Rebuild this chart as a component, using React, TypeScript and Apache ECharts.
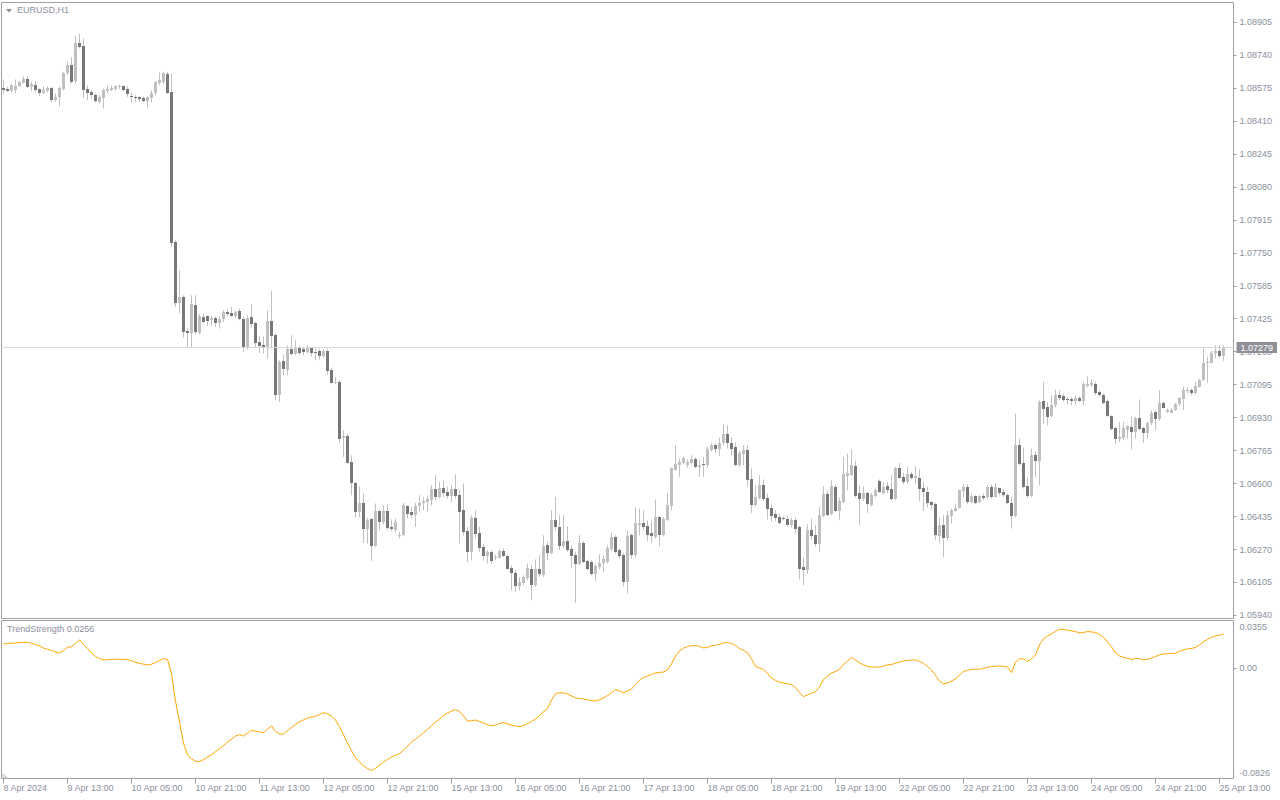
import React, { useEffect, useRef } from "react";
import * as echarts from "echarts";

const symbolTitle = "EURUSD,H1";
const indicatorTitle = "TrendStrength 0.0256";
const lastPrice = 1.07279;

const opens = [
1.08574,1.08570,1.08562,1.08565,1.08585,1.08602,1.08619,1.08582,1.08594,1.08570,
1.08552,1.08562,1.08575,1.08515,1.08532,1.08572,1.08649,1.08690,1.08610,1.08804,
1.08785,1.08570,1.08557,1.08540,1.08507,1.08527,1.08559,1.08565,1.08572,1.08582,
1.08585,1.08570,1.08535,1.08532,1.08529,1.08525,1.08510,1.08525,1.08549,1.08599,
1.08607,1.08647,1.08554,1.07807,1.07502,1.07529,1.07362,1.07352,1.07490,1.07352,
1.07432,1.07435,1.07415,1.07427,1.07402,1.07419,1.07457,1.07452,1.07435,1.07462,
1.07422,1.07274,1.07432,1.07399,1.07305,1.07290,1.07279,1.07412,1.07339,1.07040,
1.07210,1.07165,1.07270,1.07245,1.07282,1.07270,1.07257,1.07274,1.07255,1.07260,
1.07235,1.07260,1.07165,1.07102,1.07104,1.06827,1.06835,1.06705,1.06599,1.06457,
1.06502,1.06372,1.06419,1.06285,1.06460,1.06407,1.06460,1.06382,1.06365,1.06335,
1.06342,1.06485,1.06457,1.06440,1.06485,1.06499,1.06507,1.06515,1.06572,1.06532,
1.06577,1.06555,1.06537,1.06572,1.06540,1.06465,1.06360,1.06257,1.06427,1.06352,
1.06282,1.06235,1.06257,1.06225,1.06227,1.06262,1.06237,1.06177,1.06152,1.06085,
1.06102,1.06127,1.06172,1.06090,1.06172,1.06140,1.06290,1.06252,1.06415,1.06382,
1.06285,1.06312,1.06272,1.06242,1.06195,1.06302,1.06212,1.06204,1.06145,1.06179,
1.06199,1.06207,1.06270,1.06332,1.06265,1.06240,1.06107,1.06340,1.06240,1.06390,
1.06399,1.06385,1.06349,1.06332,1.06429,1.06340,1.06415,1.06485,1.06669,1.06690,
1.06702,1.06690,1.06702,1.06719,1.06682,1.06695,1.06690,1.06765,1.06790,1.06774,
1.06799,1.06845,1.06802,1.06779,1.06690,1.06745,1.06765,1.06619,1.06490,1.06524,
1.06590,1.06524,1.06474,1.06445,1.06429,1.06425,1.06420,1.06390,1.06415,1.06382,
1.06182,1.06165,1.06365,1.06340,1.06295,1.06435,1.06545,1.06445,1.06582,1.06462,
1.06507,1.06637,1.06640,1.06685,1.06549,1.06519,1.06549,1.06490,1.06535,1.06612,
1.06552,1.06585,1.06570,1.06520,1.06674,1.06632,1.06604,1.06645,1.06624,1.06624,
1.06577,1.06557,1.06507,1.06495,1.06335,1.06390,1.06324,1.06439,1.06462,1.06479,
1.06562,1.06582,1.06507,1.06535,1.06507,1.06537,1.06529,1.06582,1.06532,1.06575,
1.06555,1.06540,1.06499,1.06437,1.06790,1.06699,1.06585,1.06537,1.06740,1.06712,
1.07010,1.06979,1.06935,1.06990,1.07040,1.07035,1.07022,1.07019,1.07012,1.07027,
1.07012,1.07089,1.07090,1.07095,1.07057,1.07040,1.07010,1.06935,1.06874,1.06822,
1.06824,1.06869,1.06882,1.06857,1.06924,1.06874,1.06852,1.06899,1.06957,1.06919,
1.07002,1.06957,1.06952,1.06965,1.06995,1.07020,1.07062,1.07065,1.07049,1.07082,
1.07115,1.07199,1.07202,1.07249,1.07262,1.07235
];

const closes = [
1.08565,1.08562,1.08589,1.08585,1.08605,1.08619,1.08582,1.08595,1.08565,1.08549,
1.08565,1.08575,1.08515,1.08530,1.08574,1.08652,1.08690,1.08607,1.08804,1.08782,
1.08565,1.08552,1.08540,1.08512,1.08529,1.08565,1.08569,1.08575,1.08585,1.08584,
1.08565,1.08544,1.08532,1.08527,1.08522,1.08510,1.08529,1.08550,1.08605,1.08615,
1.08649,1.08552,1.07802,1.07502,1.07529,1.07357,1.07352,1.07495,1.07357,1.07435,
1.07407,1.07412,1.07427,1.07402,1.07422,1.07457,1.07445,1.07435,1.07457,1.07422,
1.07279,1.07424,1.07395,1.07302,1.07287,1.07279,1.07412,1.07335,1.07040,1.07207,
1.07169,1.07270,1.07245,1.07277,1.07252,1.07257,1.07277,1.07252,1.07252,1.07235,
1.07260,1.07162,1.07102,1.07107,1.06819,1.06835,1.06702,1.06599,1.06457,1.06502,
1.06372,1.06415,1.06287,1.06460,1.06407,1.06460,1.06377,1.06370,1.06405,1.06344,
1.06492,1.06449,1.06440,1.06485,1.06502,1.06512,1.06519,1.06572,1.06532,1.06577,
1.06552,1.06537,1.06569,1.06535,1.06457,1.06357,1.06257,1.06427,1.06345,1.06279,
1.06235,1.06257,1.06212,1.06232,1.06262,1.06237,1.06174,1.06149,1.06085,1.06107,
1.06132,1.06177,1.06090,1.06172,1.06145,1.06285,1.06252,1.06415,1.06379,1.06285,
1.06312,1.06269,1.06239,1.06195,1.06302,1.06207,1.06172,1.06145,1.06187,1.06202,
1.06219,1.06274,1.06332,1.06257,1.06237,1.06107,1.06337,1.06240,1.06400,1.06399,
1.06382,1.06340,1.06335,1.06429,1.06340,1.06419,1.06490,1.06674,1.06695,1.06707,
1.06724,1.06707,1.06719,1.06682,1.06690,1.06692,1.06769,1.06790,1.06774,1.06802,
1.06845,1.06802,1.06774,1.06690,1.06752,1.06765,1.06615,1.06490,1.06529,1.06590,
1.06519,1.06470,1.06435,1.06424,1.06399,1.06420,1.06390,1.06415,1.06374,1.06174,
1.06165,1.06365,1.06335,1.06295,1.06440,1.06545,1.06440,1.06585,1.06462,1.06512,
1.06645,1.06652,1.06690,1.06535,1.06519,1.06549,1.06495,1.06540,1.06565,1.06557,
1.06582,1.06565,1.06520,1.06674,1.06627,1.06607,1.06645,1.06627,1.06637,1.06574,
1.06557,1.06502,1.06490,1.06340,1.06390,1.06324,1.06440,1.06465,1.06479,1.06565,
1.06582,1.06507,1.06537,1.06502,1.06537,1.06527,1.06582,1.06529,1.06579,1.06552,
1.06540,1.06499,1.06437,1.06790,1.06695,1.06582,1.06537,1.06740,1.06712,1.07007,
1.06974,1.06932,1.06990,1.07040,1.07027,1.07015,1.07017,1.07012,1.07027,1.07012,
1.07094,1.07095,1.07099,1.07052,1.07040,1.07002,1.06935,1.06870,1.06822,1.06832,
1.06877,1.06885,1.06857,1.06924,1.06870,1.06852,1.06899,1.06949,1.06919,1.07002,
1.06977,1.06965,1.06965,1.06995,1.07024,1.07065,1.07069,1.07049,1.07085,1.07115,
1.07199,1.07207,1.07249,1.07262,1.07235,1.07279
];

const highs = [
1.08619,1.08582,1.08594,1.08619,1.08612,1.08635,1.08635,1.08607,1.08610,1.08575,
1.08585,1.08585,1.08582,1.08549,1.08585,1.08657,1.08709,1.08732,1.08837,1.08849,
1.08824,1.08590,1.08565,1.08549,1.08540,1.08574,1.08589,1.08587,1.08589,1.08594,
1.08589,1.08585,1.08557,1.08540,1.08535,1.08535,1.08535,1.08565,1.08612,1.08654,
1.08657,1.08657,1.08649,1.07815,1.07665,1.07540,1.07374,1.07540,1.07540,1.07449,
1.07449,1.07440,1.07440,1.07435,1.07435,1.07465,1.07469,1.07482,1.07465,1.07474,
1.07432,1.07440,1.07495,1.07407,1.07335,1.07335,1.07465,1.07562,1.07350,1.07215,
1.07245,1.07290,1.07340,1.07315,1.07290,1.07282,1.07290,1.07277,1.07274,1.07274,
1.07269,1.07274,1.07179,1.07132,1.07115,1.06865,1.06845,1.06740,1.06607,1.06585,
1.06549,1.06427,1.06427,1.06499,1.06465,1.06490,1.06495,1.06420,1.06424,1.06357,
1.06502,1.06490,1.06482,1.06502,1.06540,1.06532,1.06540,1.06590,1.06640,1.06607,
1.06615,1.06582,1.06590,1.06645,1.06569,1.06599,1.06382,1.06440,1.06465,1.06382,
1.06299,1.06265,1.06265,1.06244,1.06269,1.06274,1.06245,1.06190,1.06165,1.06132,
1.06140,1.06199,1.06190,1.06219,1.06240,1.06340,1.06307,1.06465,1.06532,1.06440,
1.06440,1.06385,1.06290,1.06257,1.06340,1.06312,1.06219,1.06215,1.06199,1.06245,
1.06240,1.06290,1.06352,1.06340,1.06274,1.06252,1.06365,1.06349,1.06480,1.06474,
1.06465,1.06415,1.06419,1.06519,1.06435,1.06432,1.06552,1.06679,1.06790,1.06724,
1.06732,1.06719,1.06740,1.06729,1.06715,1.06732,1.06782,1.06799,1.06799,1.06829,
1.06895,1.06890,1.06829,1.06804,1.06762,1.06790,1.06790,1.06674,1.06590,1.06640,
1.06619,1.06549,1.06495,1.06465,1.06449,1.06435,1.06440,1.06429,1.06429,1.06390,
1.06232,1.06395,1.06424,1.06390,1.06482,1.06585,1.06565,1.06615,1.06590,1.06529,
1.06732,1.06749,1.06769,1.06712,1.06590,1.06585,1.06557,1.06552,1.06574,1.06619,
1.06607,1.06607,1.06640,1.06682,1.06702,1.06652,1.06682,1.06657,1.06685,1.06669,
1.06607,1.06582,1.06510,1.06502,1.06429,1.06440,1.06465,1.06474,1.06499,1.06569,
1.06599,1.06595,1.06549,1.06540,1.06540,1.06549,1.06590,1.06595,1.06602,1.06579,
1.06569,1.06549,1.06532,1.06949,1.06824,1.06779,1.06632,1.06774,1.06762,1.07015,
1.07107,1.07007,1.07040,1.07069,1.07065,1.07049,1.07032,1.07032,1.07040,1.07035,
1.07107,1.07135,1.07119,1.07107,1.07065,1.07049,1.07019,1.06940,1.06882,1.06907,
1.06907,1.06890,1.06935,1.06932,1.07019,1.06882,1.06907,1.06965,1.06965,1.07065,
1.07007,1.06974,1.06974,1.07002,1.07032,1.07082,1.07079,1.07074,1.07107,1.07124,
1.07274,1.07232,1.07262,1.07290,1.07290,1.07290
];

const lows = [
1.08545,1.08557,1.08557,1.08549,1.08582,1.08599,1.08577,1.08560,1.08554,1.08537,
1.08545,1.08555,1.08507,1.08507,1.08485,1.08565,1.08640,1.08599,1.08599,1.08774,
1.08527,1.08515,1.08524,1.08504,1.08499,1.08474,1.08549,1.08560,1.08565,1.08572,
1.08559,1.08532,1.08504,1.08507,1.08507,1.08505,1.08479,1.08504,1.08540,1.08590,
1.08599,1.08547,1.07782,1.07482,1.07449,1.07329,1.07282,1.07282,1.07345,1.07345,
1.07399,1.07387,1.07390,1.07382,1.07374,1.07407,1.07435,1.07432,1.07424,1.07415,
1.07257,1.07269,1.07379,1.07282,1.07252,1.07249,1.07224,1.07274,1.07015,1.07007,
1.07140,1.07140,1.07240,1.07240,1.07245,1.07240,1.07249,1.07235,1.07215,1.07219,
1.07229,1.07144,1.07099,1.07095,1.06802,1.06732,1.06699,1.06540,1.06429,1.06432,
1.06302,1.06299,1.06212,1.06282,1.06365,1.06395,1.06365,1.06362,1.06357,1.06324,
1.06335,1.06424,1.06424,1.06382,1.06457,1.06465,1.06457,1.06490,1.06515,1.06524,
1.06532,1.06524,1.06504,1.06524,1.06299,1.06340,1.06207,1.06215,1.06324,1.06257,
1.06215,1.06199,1.06199,1.06215,1.06224,1.06232,1.06169,1.06065,1.06057,1.06065,
1.06090,1.06115,1.06015,1.06082,1.06132,1.06132,1.06215,1.06245,1.06365,1.06265,
1.06274,1.06257,1.06179,1.06002,1.06190,1.06202,1.06165,1.06140,1.06112,1.06169,
1.06157,1.06199,1.06262,1.06249,1.06224,1.06085,1.06049,1.06224,1.06229,1.06340,
1.06365,1.06312,1.06302,1.06324,1.06285,1.06335,1.06412,1.06465,1.06662,1.06632,
1.06695,1.06679,1.06695,1.06674,1.06632,1.06632,1.06679,1.06757,1.06749,1.06737,
1.06790,1.06774,1.06740,1.06685,1.06682,1.06690,1.06585,1.06452,1.06485,1.06519,
1.06512,1.06419,1.06407,1.06412,1.06395,1.06415,1.06382,1.06379,1.06349,1.06119,
1.06090,1.06145,1.06315,1.06282,1.06257,1.06432,1.06435,1.06440,1.06457,1.06415,
1.06499,1.06565,1.06635,1.06529,1.06390,1.06512,1.06452,1.06485,1.06529,1.06552,
1.06545,1.06552,1.06515,1.06515,1.06622,1.06595,1.06599,1.06620,1.06595,1.06512,
1.06462,1.06479,1.06469,1.06315,1.06299,1.06230,1.06315,1.06399,1.06457,1.06474,
1.06532,1.06495,1.06499,1.06495,1.06502,1.06515,1.06524,1.06524,1.06529,1.06540,
1.06532,1.06495,1.06374,1.06429,1.06690,1.06574,1.06524,1.06532,1.06632,1.06590,
1.06895,1.06890,1.06929,1.06979,1.07015,1.07007,1.06995,1.06990,1.06990,1.07007,
1.06990,1.07082,1.07082,1.07040,1.07035,1.06995,1.06932,1.06865,1.06795,1.06807,
1.06815,1.06824,1.06769,1.06824,1.06865,1.06802,1.06824,1.06890,1.06865,1.06912,
1.06974,1.06952,1.06949,1.06962,1.06985,1.06965,1.07049,1.07040,1.07045,1.07079,
1.07112,1.07102,1.07199,1.07225,1.07232,1.07212
];

const trendStrength = [
0.0180,0.0183,0.0185,0.0187,0.0189,0.0191,0.0192,0.0184,0.0176,0.0165,
0.0148,0.0139,0.0131,0.0120,0.0113,0.0130,0.0154,0.0159,0.0184,0.0210,
0.0176,0.0146,0.0113,0.0086,0.0070,0.0060,0.0062,0.0065,0.0065,0.0065,
0.0065,0.0064,0.0053,0.0043,0.0036,0.0028,0.0023,0.0028,0.0041,0.0056,
0.0071,0.0064,-0.0045,-0.0247,-0.0404,-0.0562,-0.0651,-0.0678,-0.0696,-0.0700,
-0.0685,-0.0666,-0.0648,-0.0625,-0.0604,-0.0580,-0.0554,-0.0532,-0.0509,-0.0498,
-0.0509,-0.0487,-0.0466,-0.0472,-0.0479,-0.0484,-0.0457,-0.0432,-0.0475,-0.0494,
-0.0494,-0.0468,-0.0445,-0.0423,-0.0402,-0.0388,-0.0374,-0.0367,-0.0359,-0.0348,
-0.0333,-0.0344,-0.0359,-0.0389,-0.0438,-0.0498,-0.0561,-0.0618,-0.0670,-0.0704,
-0.0730,-0.0752,-0.0767,-0.0749,-0.0726,-0.0704,-0.0684,-0.0666,-0.0651,-0.0640,
-0.0614,-0.0584,-0.0554,-0.0532,-0.0509,-0.0483,-0.0460,-0.0430,-0.0404,-0.0382,
-0.0355,-0.0337,-0.0322,-0.0311,-0.0326,-0.0359,-0.0397,-0.0393,-0.0389,-0.0400,
-0.0412,-0.0423,-0.0432,-0.0427,-0.0415,-0.0409,-0.0419,-0.0427,-0.0434,-0.0439,
-0.0430,-0.0415,-0.0400,-0.0382,-0.0355,-0.0327,-0.0303,-0.0239,-0.0194,-0.0185,
-0.0187,-0.0194,-0.0209,-0.0224,-0.0228,-0.0232,-0.0236,-0.0243,-0.0247,-0.0236,
-0.0224,-0.0206,-0.0187,-0.0161,-0.0172,-0.0185,-0.0172,-0.0157,-0.0123,-0.0090,
-0.0071,-0.0060,-0.0048,-0.0037,-0.0033,-0.0030,-0.0015,0.0030,0.0090,0.0128,
0.0148,0.0161,0.0167,0.0167,0.0161,0.0150,0.0154,0.0165,0.0169,0.0176,
0.0188,0.0190,0.0184,0.0169,0.0146,0.0131,0.0113,0.0068,0.0012,0.0000,
-0.0011,-0.0041,-0.0075,-0.0093,-0.0107,-0.0112,-0.0117,-0.0123,-0.0146,-0.0183,
-0.0213,-0.0202,-0.0189,-0.0176,-0.0142,-0.0086,-0.0060,-0.0037,-0.0026,-0.0011,
0.0027,0.0053,0.0079,0.0060,0.0038,0.0023,0.0012,0.0008,0.0006,0.0008,
0.0015,0.0023,0.0027,0.0035,0.0045,0.0053,0.0056,0.0060,0.0060,0.0049,
0.0035,0.0012,-0.0015,-0.0056,-0.0097,-0.0120,-0.0112,-0.0097,-0.0082,-0.0052,
-0.0026,-0.0018,-0.0011,-0.0009,-0.0009,-0.0003,0.0004,0.0010,0.0013,0.0015,
0.0013,0.0008,-0.0035,0.0045,0.0068,0.0068,0.0049,0.0068,0.0098,0.0173,
0.0217,0.0240,0.0255,0.0274,0.0290,0.0287,0.0283,0.0277,0.0272,0.0262,
0.0266,0.0272,0.0270,0.0265,0.0251,0.0229,0.0195,0.0158,0.0113,0.0090,
0.0080,0.0073,0.0065,0.0071,0.0071,0.0060,0.0064,0.0075,0.0086,0.0098,
0.0105,0.0107,0.0109,0.0110,0.0124,0.0135,0.0143,0.0146,0.0154,0.0173,
0.0195,0.0214,0.0229,0.0240,0.0245,0.0256
];

const priceTicks = [
1.05940,1.06105,1.06269,1.06434,1.06599,1.06764,1.06928,1.07093,1.07258,1.07423,
1.07587,1.07752,1.07917,1.08081,1.08246,1.08411,1.08576,1.08740,1.08905
];
const priceTickLabels = [
"1.05940","1.06105","1.06270","1.06435","1.06600","1.06765","1.06930","1.07095","1.07260","1.07425",
"1.07585","1.07750","1.07915","1.08080","1.08245","1.08410","1.08575","1.08740","1.08905"
];

const indicatorTickPositions = [0.0303, 0, -0.0783];
const indicatorTickLabels = ["0.0355", "0.00", "-0.0826"];
const indicatorMin = -0.0826;
const indicatorMax = 0.0355;

const timeLabels = [
"8 Apr 2024","9 Apr 13:00","10 Apr 05:00","10 Apr 21:00","11 Apr 13:00","12 Apr 05:00",
"12 Apr 21:00","15 Apr 13:00","16 Apr 05:00","16 Apr 21:00","17 Apr 13:00","18 Apr 05:00",
"18 Apr 21:00","19 Apr 13:00","22 Apr 05:00","22 Apr 21:00","23 Apr 13:00","24 Apr 05:00",
"24 Apr 21:00","25 Apr 13:00"
];
const labelEvery = 16;

// hourly bar times (weekends skipped), plus two empty slots of right shift
function buildCategories(count: number): string[] {
  const out: string[] = [];
  let t = Date.UTC(2024, 3, 8, 21);
  while (out.length < count) {
    const d = new Date(t);
    const wd = d.getUTCDay();
    if (wd !== 0 && wd !== 6) {
      const mm = String(d.getUTCMonth() + 1).padStart(2, "0");
      const dd = String(d.getUTCDate()).padStart(2, "0");
      const hh = String(d.getUTCHours()).padStart(2, "0");
      out.push(`2024.${mm}.${dd} ${hh}:00`);
    }
    t += 3600 * 1000;
  }
  return out;
}

const FONT = "Liberation Sans";
const TEXT = "#8a8f9c";
const FRAME = "#a0a0a0";
const BULL = "#c0c0c0";
const BEAR = "#787878";
const WICK = "#c0c0c0";

export default function App() {
  const ref = useRef<HTMLDivElement>(null);
  useEffect(() => {
    if (!ref.current) return;
    const chart = echarts.init(ref.current, null, { renderer: "svg" });
    const n = opens.length;
    const cats = buildCategories(n + 2);
    const candleData = opens.map((o, i) => [i, o, closes[i], lows[i], highs[i]]);
    const showIdx = (index: number) => index % labelEvery === 0 && index / labelEvery < timeLabels.length;

    chart.setOption({
      animation: false,
      backgroundColor: "#ffffff",
      textStyle: { fontFamily: FONT },
      title: [
        { text: symbolTitle, left: 17, top: 5, padding: 0, textStyle: { fontFamily: FONT, fontSize: 9, fontWeight: "normal", color: TEXT } },
        { text: indicatorTitle, left: 7, top: 624, padding: 0, textStyle: { fontFamily: FONT, fontSize: 9, fontWeight: "normal", color: TEXT } },
      ],
      graphic: [
        { type: "polygon", shape: { points: [[6, 9], [12, 9], [9, 12.5]] }, style: { fill: TEXT } },
        { type: "polygon", shape: { points: [[2.5, 772.5], [2.5, 778], [8, 778]] }, style: { fill: "#d6d6d6" } },
      ],
      grid: [
        { left: 1.5, top: 2.5, width: 1232, height: 616, show: true, borderColor: FRAME, borderWidth: 1, backgroundColor: "transparent" },
        { left: 1.5, top: 620.5, width: 1232, height: 158, show: true, borderColor: FRAME, borderWidth: 1, backgroundColor: "transparent" },
      ],
      xAxis: [
        { type: "category", gridIndex: 0, data: cats, boundaryGap: true, show: false, axisLine: { onZero: false } },
        {
          type: "category", gridIndex: 1, data: cats, boundaryGap: true, position: "bottom",
          axisLine: { show: false, onZero: false },
          axisTick: { show: true, alignWithLabel: true, interval: (i: number) => showIdx(i), length: 5, lineStyle: { color: FRAME } },
          axisLabel: {
            interval: (i: number) => showIdx(i),
            formatter: (_v: string, i: number) => (showIdx(i) ? timeLabels[i / labelEvery] : ""),
            align: "left", margin: 5, color: TEXT, fontFamily: FONT, fontSize: 9,
          },
          splitLine: { show: false },
        },
      ],
      yAxis: [
        {
          type: "value", gridIndex: 0, position: "right", min: 1.05924, max: 1.09004,
          splitLine: { show: false }, axisLine: { show: false },
          axisTick: { show: true, length: 3, customValues: priceTicks, lineStyle: { color: FRAME } },
          axisLabel: {
            customValues: priceTicks, margin: 6, color: TEXT, fontFamily: FONT, fontSize: 9,
            formatter: (v: number) => {
              let best = 0;
              for (let k = 1; k < priceTicks.length; k++) if (Math.abs(priceTicks[k] - v) < Math.abs(priceTicks[best] - v)) best = k;
              return priceTickLabels[best];
            },
          },
        },
        {
          type: "value", gridIndex: 1, position: "right", min: indicatorMin, max: indicatorMax,
          splitLine: { show: false }, axisLine: { show: false },
          axisTick: { show: true, length: 3, customValues: [0], lineStyle: { color: FRAME } },
          axisLabel: {
            customValues: indicatorTickPositions, margin: 6, color: TEXT, fontFamily: FONT, fontSize: 9,
            formatter: (v: number) => {
              let best = 0;
              for (let k = 1; k < indicatorTickPositions.length; k++) if (Math.abs(indicatorTickPositions[k] - v) < Math.abs(indicatorTickPositions[best] - v)) best = k;
              return indicatorTickLabels[best];
            },
          },
        },
      ],
      series: [
        {
          type: "line", xAxisIndex: 0, yAxisIndex: 0, data: closes, symbol: "none", silent: true,
          lineStyle: { width: 0, opacity: 0 }, z: 1,
          markLine: {
            silent: true, symbol: ["none", "none"], animation: false, precision: 5,
            lineStyle: { color: "#d9d9d9", width: 1, type: "solid" },
            label: {
              show: true, position: "end", distance: 3, formatter: lastPrice.toFixed(5),
              color: "#ffffff", backgroundColor: "#8f9097", padding: [1, 4, 1, 4],
              fontFamily: FONT, fontSize: 9, lineHeight: 9,
            },
            data: [{ yAxis: lastPrice }],
          },
        },
        {
          type: "custom", xAxisIndex: 0, yAxisIndex: 0, data: candleData, z: 3,
          encode: { x: 0, y: [1, 2, 3, 4] },
          renderItem: (_params: any, api: any) => {
            const i = api.value(0);
            const o = api.value(1), c = api.value(2), l = api.value(3), h = api.value(4);
            const pO = api.coord([i, o]);
            const pC = api.coord([i, c]);
            const pL = api.coord([i, l]);
            const pH = api.coord([i, h]);
            const x = Math.floor(pO[0]) + 0.5;
            const top = Math.round(Math.min(pO[1], pC[1]));
            const bot = Math.round(Math.max(pO[1], pC[1]));
            const bh = Math.max(1, bot - top);
            const bull = c >= o;
            return {
              type: "group",
              children: [
                { type: "line", shape: { x1: x, y1: pH[1], x2: x, y2: pL[1] }, style: { stroke: WICK, lineWidth: 1 } },
                { type: "rect", shape: { x: x - 1.5, y: top, width: 3, height: bh }, style: { fill: bull ? BULL : BEAR } },
              ],
            };
          },
        },
        {
          type: "line", xAxisIndex: 1, yAxisIndex: 1, data: trendStrength, symbol: "none",
          lineStyle: { color: "#ffa500", width: 1 }, silent: true,
        },
      ],
    });
    return () => chart.dispose();
  }, []);
  return <div ref={ref} style={{ position: "fixed", left: 0, top: 0, width: 1280, height: 800, background: "#fff" }} />;
}
